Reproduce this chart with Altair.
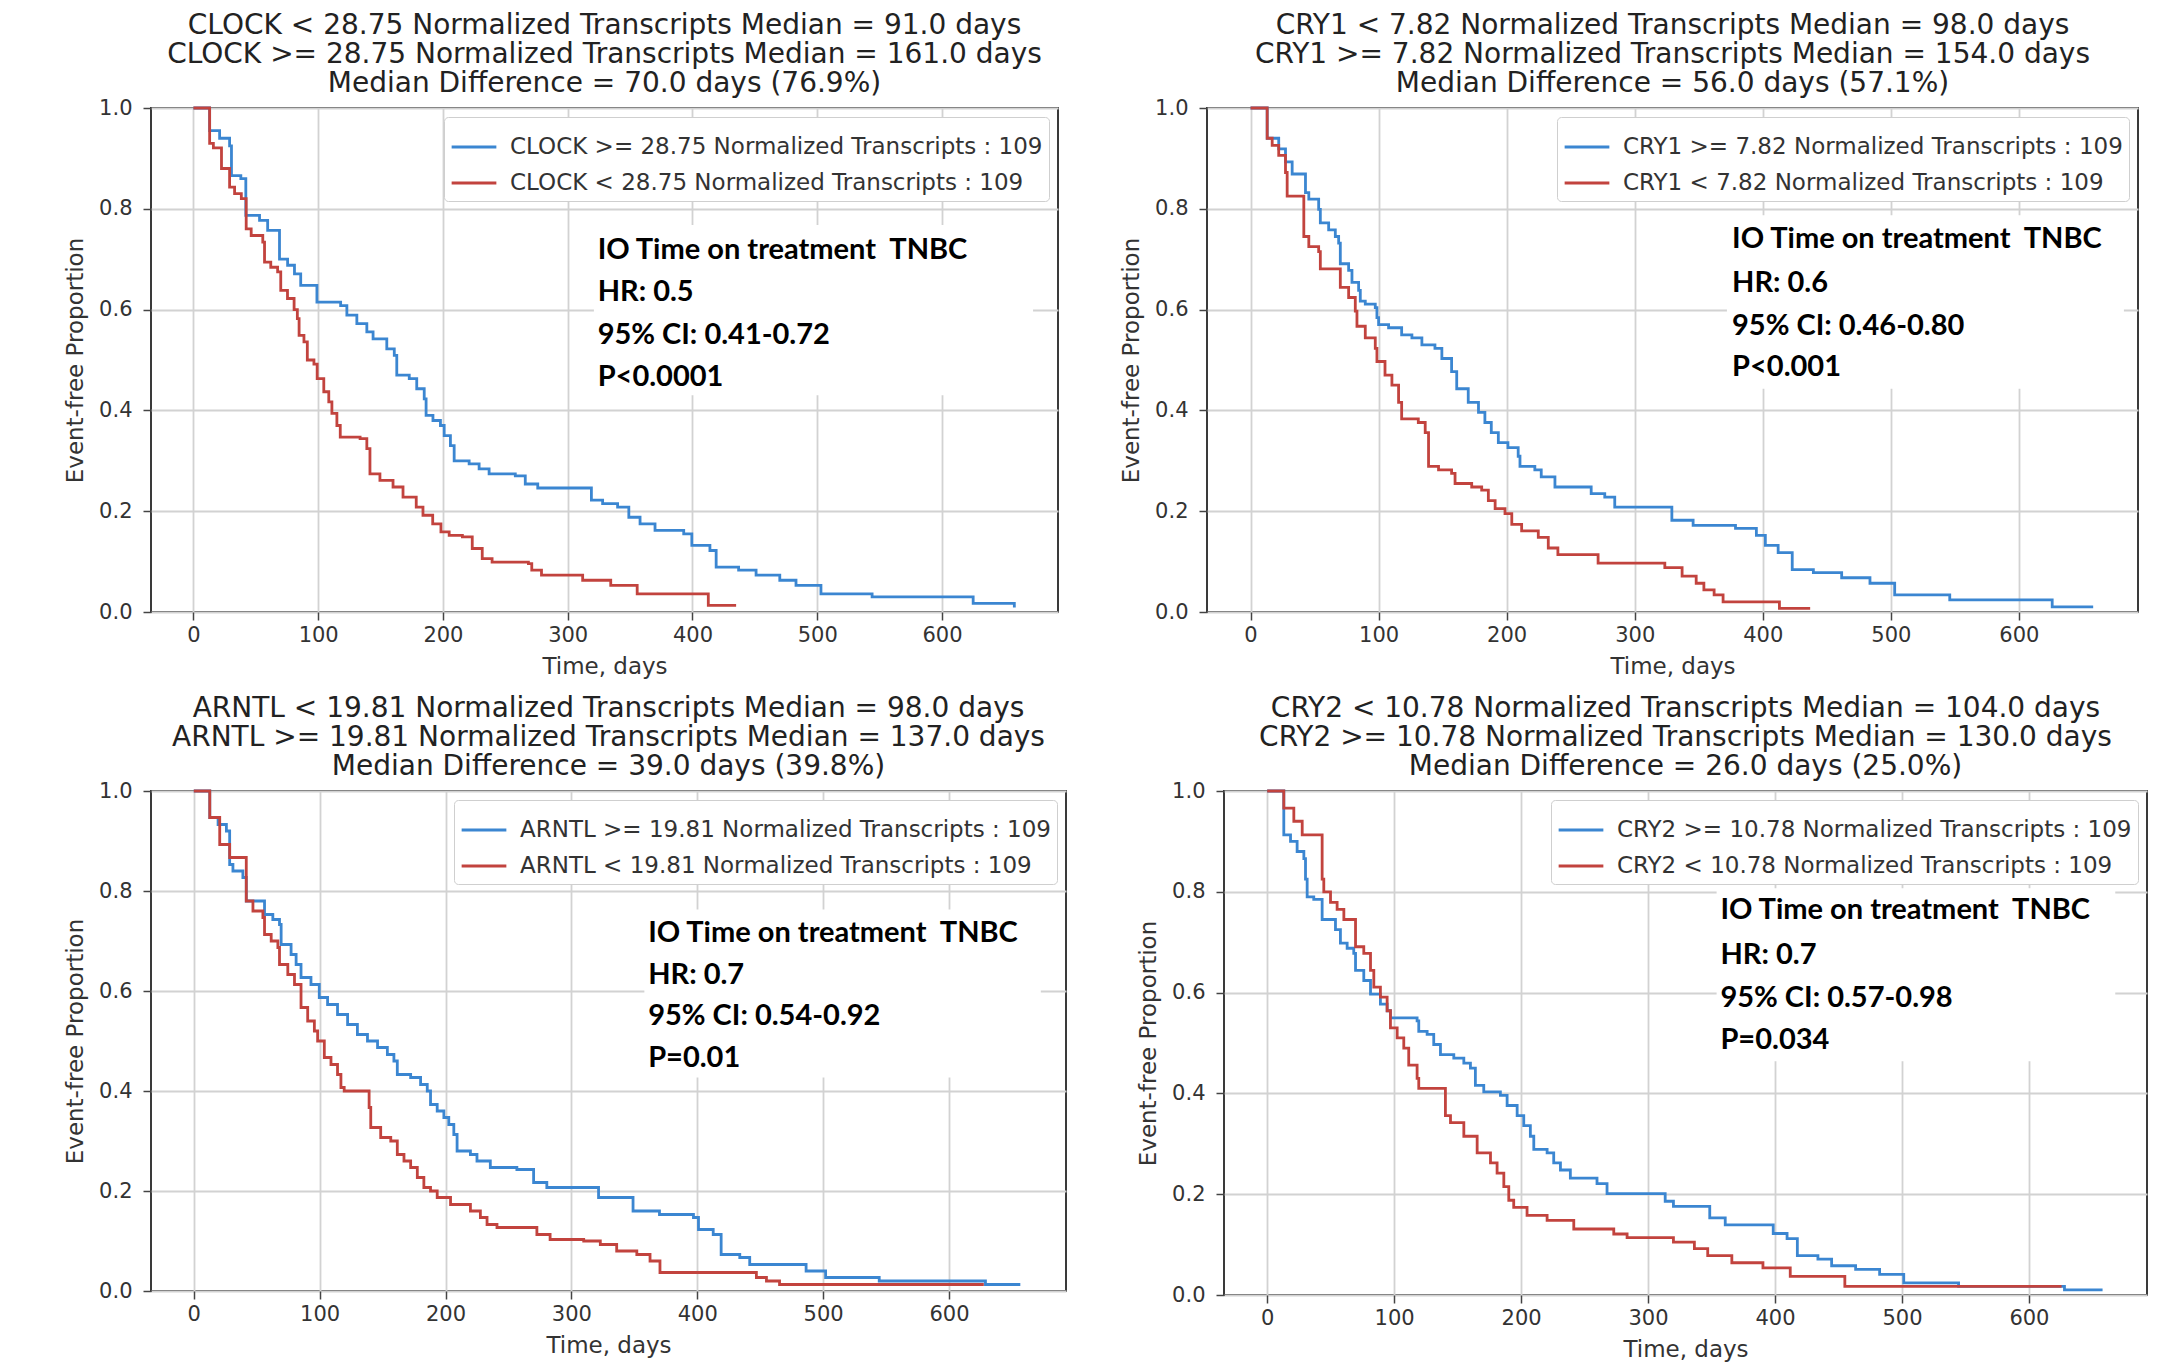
import altair as alt
import pandas as pd

BLUE = "#3b86d1"
RED = "#c2433e"

# ---------------- data ----------------
clock_hi_t = [0, 13, 21, 29, 30.5, 38, 42, 53, 59.5, 69, 75.5, 81, 86, 99, 118, 123, 131, 139, 144, 155,
              161, 163, 173, 179, 185, 186.5, 192, 198, 201, 206, 209, 221, 229, 237, 258, 266, 276, 319,
              328, 340, 349, 358, 370, 393, 399.5, 414, 419, 437, 451, 470, 483, 503, 544, 625, 658]
clock_hi_s = [1.0, 0.955, 0.94, 0.925, 0.866, 0.86, 0.787, 0.777, 0.757, 0.70, 0.688, 0.671, 0.648, 0.615,
              0.608, 0.589, 0.572, 0.556, 0.542, 0.522, 0.509, 0.470, 0.463, 0.443, 0.423, 0.39, 0.38, 0.37,
              0.35, 0.33, 0.30, 0.294, 0.284, 0.274, 0.27, 0.254, 0.246, 0.222, 0.215, 0.208, 0.188, 0.175,
              0.162, 0.155, 0.132, 0.122, 0.089, 0.083, 0.073, 0.063, 0.053, 0.036, 0.03, 0.017, 0.009]
clock_lo_t = [0, 13, 16, 22.5, 29, 33, 38.4, 42.3, 46.3, 55.6, 57, 62, 67.5, 70, 75.4, 80.7, 83.3, 84.7,
              88.6, 91.3, 96.6, 99.2, 104.5, 108.5, 111, 115, 117.7, 133.6, 139, 141.5, 149.5, 160, 168,
              178.6, 184, 191.8, 198.4, 205, 215.6, 223.5, 231.5, 239.4, 268.5, 271.2, 279, 312, 334.5,
              355.7, 412.7, 435]
clock_lo_s = [1.0, 0.93, 0.921, 0.88, 0.843, 0.83, 0.82, 0.76, 0.747, 0.734, 0.694, 0.684, 0.675, 0.638,
              0.622, 0.60, 0.582, 0.549, 0.536, 0.50, 0.492, 0.463, 0.437, 0.417, 0.394, 0.37, 0.347, 0.344,
              0.324, 0.274, 0.261, 0.248, 0.228, 0.208, 0.192, 0.175, 0.159, 0.152, 0.149, 0.126, 0.106,
              0.099, 0.096, 0.083, 0.073, 0.063, 0.053, 0.036, 0.013, 0.013]

cry1_hi_t = [0, 13, 22, 27.3, 32.5, 42.9, 45.5, 53.2, 54.5, 61, 66.2, 68.8, 70.1, 76.6, 79.2, 84.4, 85.7,
             89.6, 97.4, 98.7, 100, 107.8, 118, 126, 133.8, 144, 149.4, 157, 161, 170, 178, 183, 188, 193.5,
             201, 209, 210.4, 222, 227, 237.7, 266, 276.6, 284.4, 329, 345.6, 378.7, 395, 402, 412, 423,
             439.5, 461.6, 483.7, 503, 546, 626, 658]
cry1_hi_s = [1.0, 0.94, 0.919, 0.893, 0.869, 0.832, 0.819, 0.799, 0.772, 0.758, 0.745, 0.732, 0.691, 0.678,
             0.654, 0.638, 0.617, 0.611, 0.604, 0.584, 0.57, 0.564, 0.55, 0.544, 0.53, 0.523, 0.503, 0.477,
             0.443, 0.416, 0.396, 0.376, 0.356, 0.336, 0.326, 0.309, 0.289, 0.282, 0.268, 0.248, 0.235,
             0.228, 0.208, 0.182, 0.172, 0.166, 0.152, 0.132, 0.118, 0.084, 0.078, 0.068, 0.057, 0.034,
             0.024, 0.01, 0.01]
cry1_lo_t = [0, 13, 16.9, 22, 27.3, 28.6, 41.6, 45.5, 53.2, 54.5, 70.1, 76.6, 81.8, 83.1, 89.6, 97.4, 98.7,
             105, 110.4, 115.6, 118, 131, 136.4, 139, 146.8, 157, 159.7, 172.7, 180.5, 185.7, 191, 198.7,
             204, 211.7, 224.7, 232.5, 240, 271.4, 323.5, 337, 348, 354, 362, 369, 413, 437]
cry1_lo_s = [1.0, 0.94, 0.926, 0.906, 0.872, 0.825, 0.745, 0.725, 0.715, 0.681, 0.644, 0.624, 0.597, 0.567,
             0.544, 0.523, 0.497, 0.47, 0.45, 0.416, 0.383, 0.376, 0.356, 0.289, 0.282, 0.275, 0.255, 0.248,
             0.242, 0.221, 0.205, 0.195, 0.174, 0.161, 0.148, 0.127, 0.114, 0.097, 0.088, 0.071, 0.057,
             0.044, 0.034, 0.02, 0.007, 0.007]

arntl_hi_t = [0, 12.7, 19.3, 25.9, 28.5, 31.1, 39, 41.7, 56.2, 62.8, 68.1, 69.4, 77.3, 81.3, 85.2, 93.1,
              99.7, 106.3, 114.2, 122.2, 130, 138, 146, 153.8, 159, 161.7, 172.3, 180.2, 185.5, 188.1, 193.4,
              198.7, 202.6, 206.6, 209.2, 219.8, 225, 235.6, 256.7, 270, 280.5, 321.6, 349, 370, 397, 401,
              412.7, 419, 433.8, 441.7, 486.5, 502, 544.6, 629, 656.7]
arntl_hi_s = [1.0, 0.947, 0.933, 0.92, 0.853, 0.84, 0.827, 0.78, 0.753, 0.743, 0.733, 0.693, 0.673, 0.653,
              0.627, 0.613, 0.587, 0.573, 0.553, 0.533, 0.513, 0.50, 0.487, 0.473, 0.46, 0.433, 0.427, 0.413,
              0.40, 0.373, 0.36, 0.347, 0.333, 0.313, 0.28, 0.273, 0.26, 0.247, 0.243, 0.217, 0.207, 0.187,
              0.16, 0.153, 0.147, 0.123, 0.113, 0.073, 0.067, 0.053, 0.04, 0.027, 0.02, 0.013, 0.013]
arntl_lo_t = [0, 12.7, 20.6, 28.5, 41.7, 47, 54.9, 56.2, 61.5, 66.8, 68.1, 74.7, 80, 85.2, 90.5, 95.8, 98.4,
              103.7, 109, 114.2, 116.9, 119.5, 139.3, 140.6, 148.5, 156.5, 161.7, 167, 172.3, 177.6, 182.8,
              188.1, 193.4, 204, 219.8, 227.7, 233, 240.9, 272.6, 283.1, 309.8, 323, 336, 352, 362.5, 370.4,
              447, 455, 465.4, 627.7]
arntl_lo_s = [1.0, 0.947, 0.893, 0.867, 0.78, 0.76, 0.747, 0.713, 0.70, 0.687, 0.653, 0.633, 0.613, 0.567,
              0.54, 0.52, 0.50, 0.467, 0.453, 0.433, 0.407, 0.40, 0.367, 0.327, 0.307, 0.30, 0.273, 0.26,
              0.247, 0.227, 0.207, 0.20, 0.187, 0.173, 0.16, 0.147, 0.133, 0.127, 0.113, 0.103, 0.10, 0.093,
              0.08, 0.073, 0.06, 0.037, 0.027, 0.02, 0.013, 0.013]

cry2_hi_t = [0, 13.1, 18.4, 23.6, 28.9, 30.2, 31.5, 36.7, 43.3, 53.8, 57.7, 63, 68.2, 69.6, 76.1, 81.4, 89.2,
             94.5, 97.1, 118.1, 119.4, 126, 131.2, 136.5, 147, 154.9, 160.1, 164, 170.6, 183.7, 189, 196.9,
             202.1, 207.3, 210, 220.5, 225.7, 231, 238.8, 259.8, 267.7, 313.5, 320, 348.6, 360.8, 398.6,
             409.5, 417.6, 433.8, 444.6, 463.5, 482.4, 501.4, 544.6, 628, 658]
cry2_hi_s = [1.0, 0.913, 0.90, 0.88, 0.866, 0.825, 0.79, 0.785, 0.745, 0.725, 0.698, 0.688, 0.678, 0.644,
             0.624, 0.597, 0.577, 0.564, 0.55, 0.544, 0.523, 0.517, 0.497, 0.477, 0.47, 0.46, 0.45, 0.416,
             0.403, 0.396, 0.376, 0.356, 0.336, 0.315, 0.289, 0.282, 0.262, 0.248, 0.232, 0.221, 0.201,
             0.186, 0.176, 0.153, 0.139, 0.122, 0.112, 0.078, 0.071, 0.058, 0.051, 0.041, 0.024, 0.017,
             0.01, 0.01]
cry2_lo_t = [0, 13.1, 21, 27.6, 43.3, 44.6, 49.9, 55.1, 60.4, 69.6, 76.1, 81.4, 84, 89.2, 94.5, 97.1, 102.4,
             107.6, 111.5, 118.1, 119.4, 140.4, 144.4, 154.9, 165.4, 175.9, 181.1, 186.4, 190.3, 194.2,
             204.7, 220.5, 241.5, 273, 283.5, 320, 336.5, 347, 366, 390.5, 412, 455, 625.7]
cry2_lo_s = [1.0, 0.966, 0.94, 0.913, 0.825, 0.80, 0.779, 0.765, 0.745, 0.691, 0.678, 0.644, 0.611, 0.591,
             0.564, 0.53, 0.51, 0.49, 0.456, 0.43, 0.41, 0.356, 0.342, 0.315, 0.282, 0.262, 0.242, 0.215,
             0.188, 0.174, 0.158, 0.148, 0.131, 0.121, 0.114, 0.105, 0.092, 0.078, 0.064, 0.054, 0.037,
             0.017, 0.017]

genes = ["CLOCK", "CRY1", "ARNTL", "CRY2"]
thresholds = ["28.75", "7.82", "19.81", "10.78"]
median_lo = ["91.0", "98.0", "98.0", "104.0"]
median_hi = ["161.0", "154.0", "137.0", "130.0"]
median_diff = ["70.0", "56.0", "39.0", "26.0"]
median_pct = ["76.9", "57.1", "39.8", "25.0"]
group_n = [109, 109, 109, 109]
hr_text = ["HR: 0.5", "HR: 0.6", "HR: 0.7", "HR: 0.7"]
ci_text = ["95% CI: 0.41-0.72", "95% CI: 0.46-0.80", "95% CI: 0.54-0.92", "95% CI: 0.57-0.98"]
p_text = ["P<0.0001", "P<0.001", "P=0.01", "P=0.034"]
header_text = "IO Time on treatment\u00a0 TNBC"

curves = [
    (clock_hi_t, clock_hi_s, clock_lo_t, clock_lo_s),
    (cry1_hi_t, cry1_hi_s, cry1_lo_t, cry1_lo_s),
    (arntl_hi_t, arntl_hi_s, arntl_lo_t, arntl_lo_s),
    (cry2_hi_t, cry2_hi_s, cry2_lo_t, cry2_lo_s),
]

# annotation placement (data units: days, proportion)
ann_x = [324, 376, 361, 357]
ann_y = [[0.718, 0.635, 0.550, 0.466],
         [0.740, 0.652, 0.568, 0.487],
         [0.717, 0.633, 0.550, 0.467],
         [0.763, 0.675, 0.590, 0.505]]
box_x = [(321, 673), (372, 682), (358, 673), (354, 668)]
box_y = [(0.430, 0.768), (0.443, 0.787), (0.427, 0.763), (0.464, 0.807)]

panel_w = [907, 931, 915, 923]
panel_h = [504, 504, 500, 504]

X_TICKS = [0, 100, 200, 300, 400, 500, 600]
Y_TICKS = [0.0, 0.2, 0.4, 0.6, 0.8, 1.0]

FONT = "DejaVu Sans"
COMMON_AXIS = dict(labelFont=FONT, labelFontSize=21, labelColor="#333333",
                   titleFont=FONT, titleFontSize=23, titleFontWeight="normal", titleColor="#333333",
                   domain=False, grid=True, gridColor="#d2d2d2", gridWidth=1.8,
                   tickColor="#444444", tickSize=8, tickWidth=1.5)


def xenc(field):
    return alt.X(f"{field}:Q",
                 scale=alt.Scale(domain=[-34, 693], nice=False, zero=False),
                 axis=alt.Axis(values=X_TICKS, title="Time, days", format="d",
                               labelPadding=4, titlePadding=10, **COMMON_AXIS))


def yenc(field):
    return alt.Y(f"{field}:Q",
                 scale=alt.Scale(domain=[0, 1], nice=False, zero=False),
                 axis=alt.Axis(values=Y_TICKS, title="Event-free Proportion", format=".1f",
                               labelPadding=11, titlePadding=11, **COMMON_AXIS))


def panel(i):
    g, thr = genes[i], thresholds[i]
    hi_label = f"{g} >= {thr} Normalized Transcripts : {group_n[i]}"
    lo_label = f"{g} < {thr} Normalized Transcripts : {group_n[i]}"
    ht, hs, lt, ls = curves[i]
    df = pd.concat([
        pd.DataFrame({"t": ht, "s": hs, "group": hi_label}),
        pd.DataFrame({"t": lt, "s": ls, "group": lo_label}),
    ], ignore_index=True)

    lines = alt.Chart(df).mark_line(interpolate="step-after", strokeWidth=2.8).encode(
        x=xenc("t"),
        y=yenc("s"),
        color=alt.Color("group:N",
                        scale=alt.Scale(domain=[hi_label, lo_label], range=[BLUE, RED]),
                        legend=alt.Legend(title=None, orient="top-right", offset=9,
                                          fillColor="white", strokeColor="#cfcfcf",
                                          padding=6, cornerRadius=4,
                                          labelFont=FONT, labelFontSize=23, labelColor="#333333",
                                          labelLimit=900, labelOffset=12, symbolType="stroke",
                                          symbolStrokeWidth=3, symbolSize=2000,
                                          rowPadding=0)),
    )

    box_df = pd.DataFrame({"t": [box_x[i][0]], "t2": [box_x[i][1]],
                           "s": [box_y[i][0]], "s2": [box_y[i][1]]})
    box = alt.Chart(box_df).mark_rect(color="white").encode(
        x=xenc("t"), x2="t2:Q", y=yenc("s"), y2="s2:Q")

    txt_df = pd.DataFrame({"t": [ann_x[i]] * 4, "s": ann_y[i],
                           "label": [header_text, hr_text[i], ci_text[i], p_text[i]]})
    txt = alt.Chart(txt_df).mark_text(align="left", baseline="middle", font="Lato",
                                      fontWeight="bold", fontSize=29, color="black").encode(
        x=xenc("t"), y=yenc("s"), text="label:N")

    title = [f"{g} < {thr} Normalized Transcripts Median = {median_lo[i]} days",
             f"{g} >= {thr} Normalized Transcripts Median = {median_hi[i]} days",
             f"Median Difference = {median_diff[i]} days ({median_pct[i]}%)"]

    return alt.layer(box, lines, txt).properties(
        width=panel_w[i], height=panel_h[i],
        title=alt.TitleParams(text=title, fontSize=28, font=FONT, fontWeight="normal",
                              color="#222222", lineHeight=29, offset=-1, anchor="middle"))


top = alt.hconcat(panel(0), panel(1), spacing=60).resolve_scale(color="independent")
bottom = alt.hconcat(panel(2), panel(3), spacing=69).resolve_scale(color="independent")

chart = alt.vconcat(top, bottom, spacing=15).resolve_scale(color="independent").properties(
    padding={"left": 55, "top": 3, "right": 5, "bottom": 5},
    background="white",
).configure_view(
    stroke="#3a3a3a", strokeWidth=2
)

chart.save("out.html", embed_options={"renderer": "svg", "actions": False})
